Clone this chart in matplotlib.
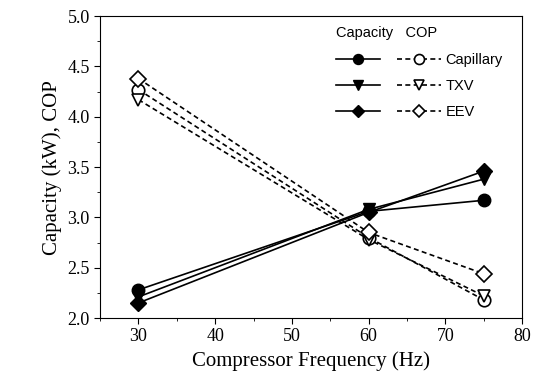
import numpy as np
import matplotlib
matplotlib.use('Agg')
import matplotlib.pyplot as plt
from matplotlib.ticker import MultipleLocator

freq = [30, 60, 75]

cap_capillary = [2.28, 3.06, 3.17]
cap_txv = [2.21, 3.08, 3.38]
cap_eev = [2.15, 3.05, 3.46]

cop_capillary = [4.27, 2.80, 2.18]
cop_txv = [4.17, 2.78, 2.22]
cop_eev = [4.38, 2.85, 2.44]

names = ['Capillary', 'TXV', 'EEV']
markers = ['o', 'v', 'D']
msizes = [9, 9, 8]

fig = plt.figure(figsize=(5.41, 3.85), dpi=100)
ax = fig.add_axes([0.185, 0.174, 0.78, 0.784])

cap_handles = []
for y, m, ms in zip([cap_capillary, cap_txv, cap_eev], markers, msizes):
    h, = ax.plot(freq, y, '-', color='black', lw=1.2, marker=m, ms=ms,
                 mfc='black', mec='black')
    cap_handles.append(h)

cop_handles = []
for y, m, ms in zip([cop_capillary, cop_txv, cop_eev], markers, msizes):
    h, = ax.plot(freq, y, '--', color='black', lw=1.2, marker=m, ms=ms,
                 mfc='white', mec='black', mew=1.2, dashes=(3, 2))
    cop_handles.append(h)

ax.set_xlim(25, 80)
ax.set_ylim(2.0, 5.0)
ax.xaxis.set_major_locator(MultipleLocator(10))
ax.xaxis.set_minor_locator(MultipleLocator(5))
ax.yaxis.set_major_locator(MultipleLocator(0.5))
ax.yaxis.set_minor_locator(MultipleLocator(0.25))
ax.tick_params(which='both', direction='out', top=False, right=False)
ax.tick_params(which='major', length=4, labelsize=13)
ax.tick_params(which='minor', length=2)
for lab in ax.get_xticklabels() + ax.get_yticklabels():
    lab.set_family('Liberation Serif')
ax.yaxis.set_major_formatter(plt.FuncFormatter(lambda v, p: f'{v:.1f}'))

ax.set_xlabel('Compressor Frequency (Hz)', family='Liberation Serif', fontsize=15)
ax.set_ylabel('Capacity (kW), COP', family='Liberation Serif', fontsize=15)

leg = ax.legend(cap_handles + cop_handles, [''] * 3 + names, ncol=2,
                title='Capacity   COP', loc='upper right',
                bbox_to_anchor=(0.985, 1.01), frameon=False,
                prop={'family': 'Liberation Sans', 'size': 10.5},
                title_fontproperties={'family': 'Liberation Sans', 'size': 10.5},
                handlelength=3.0, columnspacing=0.9, handletextpad=0.3,
                labelspacing=0.85, alignment='left', markerscale=0.8)

fig.savefig('out.png', dpi=100)
